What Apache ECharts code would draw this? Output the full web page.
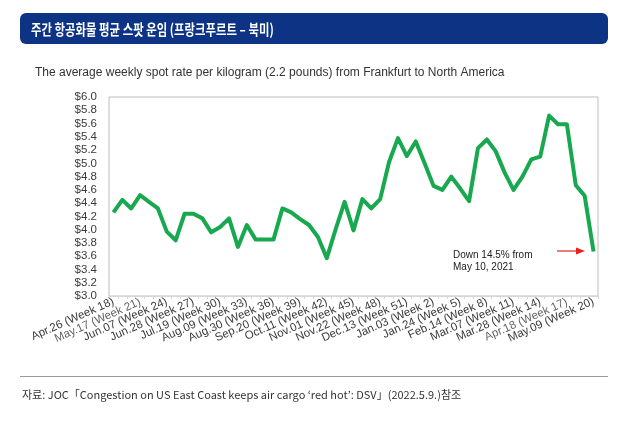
<!DOCTYPE html>
<html>
<head>
<meta charset="utf-8">
<script src="https://cdn.jsdelivr.net/npm/echarts@6/dist/echarts.min.js"></script>
<style>
html,body{margin:0;padding:0;background:#fff;}
#c{width:630px;height:425px;}
</style>
</head>
<body>
<div id="c"></div>
<script>
const titleText = '주간 항공화물 평균 스팟 운임 (프랑크푸르트 – 북미)';
const subtitleText = 'The average weekly spot rate per kilogram (2.2 pounds) from Frankfurt to North America';
const sourceText = '자료: JOC「Congestion on US East Coast keeps air cargo ‘red hot’: DSV」(2022.5.9.)참조';
const noteText = 'Down 14.5% from\nMay 10, 2021';

const weeks = [
  'Apr.26 (Week 18)','May.03 (Week 19)','May.10 (Week 20)','May.17 (Week 21)','May.24 (Week 22)','May.31 (Week 23)',
  'Jun.07 (Week 24)','Jun.14 (Week 25)','Jun.21 (Week 26)','Jun.28 (Week 27)','Jul.05 (Week 28)','Jul.12 (Week 29)',
  'Jul.19 (Week 30)','Jul.26 (Week 31)','Aug.02 (Week 32)','Aug.09 (Week 33)','Aug.16 (Week 34)','Aug.23 (Week 35)',
  'Aug.30 (Week 36)','Sep.06 (Week 37)','Sep.13 (Week 38)','Sep.20 (Week 39)','Sep.27 (Week 40)','Oct.04 (Week 41)',
  'Oct.11 (Week 42)','Oct.18 (Week 43)','Oct.25 (Week 44)','Nov.01 (Week 45)','Nov.08 (Week 46)','Nov.15 (Week 47)',
  'Nov.22 (Week 48)','Nov.29 (Week 49)','Dec.06 (Week 50)','Dec.13 (Week 51)','Dec.20 (Week 52)','Dec.27 (Week 1)',
  'Jan.03 (Week 2)','Jan.10 (Week 3)','Jan.17 (Week 4)','Jan.24 (Week 5)','Jan.31 (Week 6)','Feb.07 (Week 7)',
  'Feb.14 (Week 8)','Feb.21 (Week 9)','Feb.28 (Week 10)','Mar.07 (Week 11)','Mar.14 (Week 12)','Mar.21 (Week 13)',
  'Mar.28 (Week 14)','Apr.04 (Week 15)','Apr.11 (Week 16)','Apr.18 (Week 17)','Apr.25 (Week 18)','May.02 (Week 19)',
  'May.09 (Week 20)'
];

const rates = [
  4.26, 4.45, 4.32, 4.52, 4.42, 4.32,
  3.97, 3.84, 4.24, 4.24, 4.17, 3.96,
  4.04, 4.17, 3.74, 4.07, 3.85, 3.85,
  3.85, 4.32, 4.26, 4.16, 4.07, 3.89,
  3.57, 4.01, 4.42, 3.99, 4.46, 4.32,
  4.46, 5.02, 5.38, 5.11, 5.33, 5.00,
  4.66, 4.60, 4.80, 4.62, 4.43, 5.23,
  5.36, 5.18, 4.86, 4.60, 4.80, 5.06,
  5.10, 5.72, 5.59, 5.59, 4.67, 4.51,
  3.67
];

const labelEvery = 3;
const yMin = 3.0, yMax = 6.0, yStep = 0.2;
const lastIdx = weeks.length - 1;
// tick labels that the axis drops next to its first/last label; drawn as labels on invisible points at the axis
const extraLabelIdx = [labelEvery, lastIdx - labelEvery];

const labelFontSize = 11.5, labelColor = '#3a3a3a', labelRotate = 24, labelMargin = 5;
const fontEn = 'Liberation Sans, Arial, sans-serif';

const chart = echarts.init(document.getElementById('c'), null, {renderer:'canvas'});
chart.setOption({
  backgroundColor:'#ffffff',
  animation:false,
  textStyle:{fontFamily:fontEn},
  grid:{left:109, right:32, top:97, bottom:129, show:true, borderColor:'#bdbdbd', borderWidth:1, containLabel:false},
  xAxis:{
    type:'category',
    data:weeks,
    boundaryGap:true,
    axisLine:{lineStyle:{color:'#d6d6d6'}},
    axisTick:{show:true, interval:0, length:3, lineStyle:{color:'#d6d6d6'}},
    axisLabel:{
      interval:(i)=> i % labelEvery === 0,
      rotate:labelRotate, fontSize:labelFontSize, color:labelColor, margin:labelMargin,
      showMinLabel:true, showMaxLabel:true, hideOverlap:false,
      fontFamily:fontEn
    },
    splitLine:{show:false}
  },
  yAxis:{
    type:'value',
    min:yMin, max:yMax, interval:yStep,
    axisLine:{show:false},
    axisTick:{show:false},
    splitLine:{show:false},
    axisLabel:{fontSize:11.5, color:labelColor, margin:12, formatter:v=>'$'+v.toFixed(1), fontFamily:fontEn}
  },
  series:[{
    type:'line',
    data:rates,
    symbol:'none',
    lineStyle:{color:'#18a84f', width:4, join:'round'},
    z:5
  },{
    type:'scatter',
    data:extraLabelIdx.map(i=>[i, yMin]),
    symbolSize:1,
    itemStyle:{color:'rgba(0,0,0,0)'},
    silent:true,
    clip:false,
    z:6,
    label:{
      show:true,
      position:'bottom',
      distance:labelMargin,
      align:'right',
      verticalAlign:'middle',
      rotate:labelRotate,
      fontSize:labelFontSize,
      color:labelColor,
      fontFamily:fontEn,
      formatter:(p)=> weeks[p.value[0]]
    },
    labelLayout:{hideOverlap:false}
  }],
  graphic:[
    {type:'rect', left:20, top:13, shape:{width:588, height:31, r:6}, style:{fill:'#0d3385'}},
    {type:'text', x:31, y:29, scaleX:0.76, style:{text:titleText, fill:'#ffffff', font:'bold 15px "Noto Sans CJK KR", sans-serif', verticalAlign:'middle'}},
    {type:'text', left:35, top:67, style:{text:subtitleText, fill:'#333333', font:'12px "Liberation Sans", Arial, sans-serif'}},
    {type:'text', left:453, top:249, style:{text:noteText, fill:'#222222', font:'10px "Liberation Sans", Arial, sans-serif', lineHeight:12}},
    {type:'line', shape:{x1:557, y1:251, x2:578, y2:251}, style:{stroke:'#e8231f', lineWidth:1.2}},
    {type:'polygon', shape:{points:[[585,251],[576,247.5],[576,254.5]]}, style:{fill:'#e8231f'}},
    {type:'line', shape:{x1:20, y1:376.5, x2:608, y2:376.5}, style:{stroke:'#9a9a9a', lineWidth:1}},
    {type:'text', left:22, top:389, style:{text:sourceText, fill:'#333333', font:'11px "Noto Sans CJK KR", sans-serif'}}
  ]
});
</script>
</body>
</html>
